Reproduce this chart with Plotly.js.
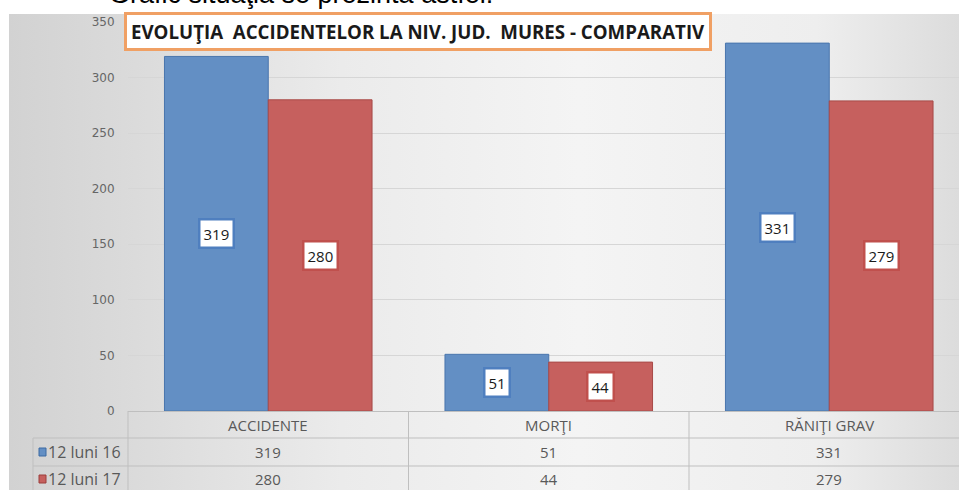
<!DOCTYPE html>
<html>
<head>
<meta charset="utf-8">
<script src="https://cdn.plot.ly/plotly-3.0.1.min.js"></script>
<style>
  html, body { margin: 0; padding: 0; background: #ffffff; }
  #wrap { position: relative; width: 959px; height: 490px; overflow: hidden; background: #ffffff; }
  #bg { position: absolute; left: 9px; top: 14px; width: 950px; height: 476px;
        background: linear-gradient(to right, #d2d2d2 0%, #dadada 12%, #ebebeb 35%, #f4f4f4 60%, #eeeeee 85%, #dcdcdc 100%); }
  #chart { position: absolute; left: 0; top: 0; width: 959px; height: 490px; }
</style>
</head>
<body>
<div id="wrap"><div id="bg"></div><div id="chart"></div></div>
<script>
// ---- data ----
const categories = ["ACCIDENTE", "MORŢI", "RĂNIŢI GRAV"];
const seriesNames = ["12 luni 16", "12 luni 17"];
const values2016 = [319, 51, 331];
const values2017 = [280, 44, 279];
const yTicks = [0, 50, 100, 150, 200, 250, 300, 350];
const chartTitle = "EVOLUŢIA&nbsp;&nbsp;ACCIDENTELOR LA NIV. JUD.&nbsp;&nbsp;MURES - COMPARATIV";
const headingText = "Grafic situaţia se prezintă astfel:";

// ---- styling / geometry ----
const W = 959, H = 490;
const M = { l: 128, r: 0, t: 22, b: 79 };
const plotW = W - M.l - M.r, plotH = H - M.t - M.b;
const catPx = 280.5;
const xr = [-0.5, -0.5 + plotW / catPx];
const yr = [0, 350];
const bargap = 0.26;
const blue = "#638fc4", blueLine = "#4a76ad";
const red = "#c6605e", redLine = "#a84a48";
const gray = "#595959", tableLine = "#bfbfbf";
const tableFont = { family: "Open Sans, sans-serif", size: 15, color: gray };
const legendFont = { family: "Open Sans, sans-serif", size: 16, color: gray };

const px2paperX = p => (p - M.l) / plotW;
const px2paperY = p => (H - M.b - p) / plotH;
const idx2paperX = i => (i - xr[0]) / (xr[1] - xr[0]);

const traces = [
  { type: "bar", name: seriesNames[0], x: categories, y: values2016,
    marker: { color: blue, line: { color: blueLine, width: 1 } }, hoverinfo: "none" },
  { type: "bar", name: seriesNames[1], x: categories, y: values2017,
    marker: { color: red, line: { color: redLine, width: 1 } }, hoverinfo: "none" }
];

const half = (1 - bargap) / 4; // offset of each bar's centre from category centre
const annotations = [];
const shapes = [];

// data labels on bars
[values2016, values2017].forEach((vals, s) => {
  vals.forEach((v, i) => {
    annotations.push({
      xref: "x", yref: "y", x: i + (s === 0 ? -half : half), y: v / 2,
      text: String(v), showarrow: false,
      font: { family: "Open Sans, sans-serif", size: 15, color: "#1a1a1a" },
      bgcolor: "#ffffff", bordercolor: s === 0 ? "#4f7fbf" : "#c0504d",
      borderwidth: 2.5, borderpad: 3
    });
  });
});

// title box
annotations.push({
  xref: "paper", yref: "paper", x: px2paperX(418), y: px2paperY(31),
  xanchor: "center", yanchor: "middle", showarrow: false,
  text: "<b>" + chartTitle + "</b>",
  font: { family: "Open Sans, sans-serif", size: 18.7, color: "#1a1a1a" },
  bgcolor: "#ffffff", bordercolor: "#f0a064", borderwidth: 3, borderpad: 4
});

// heading text cut off at the top
annotations.push({
  xref: "paper", yref: "paper", x: px2paperX(107), y: px2paperY(11),
  xanchor: "left", yanchor: "bottom", showarrow: false,
  text: headingText,
  font: { family: "Liberation Sans, Arial, sans-serif", size: 27, color: "#000000" }
});

// data table
const rowHeader = 424.5, row1 = 452, row2 = 479;
categories.forEach((c, i) => {
  annotations.push({ xref: "x", yref: "paper", x: i, y: px2paperY(rowHeader), text: c,
    showarrow: false, font: tableFont, yanchor: "middle" });
  annotations.push({ xref: "x", yref: "paper", x: i, y: px2paperY(row1), text: String(values2016[i]),
    showarrow: false, font: tableFont, yanchor: "middle" });
  annotations.push({ xref: "x", yref: "paper", x: i, y: px2paperY(row2), text: String(values2017[i]),
    showarrow: false, font: tableFont, yanchor: "middle" });
});
[[row1, 0], [row2, 1]].forEach(([r, s]) => {
  annotations.push({ xref: "paper", yref: "paper", x: px2paperX(46), y: px2paperY(r),
    xanchor: "left", yanchor: "middle", text: seriesNames[s], showarrow: false, font: legendFont });
  shapes.push({ type: "rect", xref: "paper", yref: "paper",
    x0: px2paperX(39), x1: px2paperX(46), y0: px2paperY(r - 4), y1: px2paperY(r + 4),
    fillcolor: s === 0 ? blue : red, line: { color: s === 0 ? "#3d6aa3" : "#9c3f3d", width: 1 } });
});
const lineStyle = { color: tableLine, width: 1 };
// horizontal table lines
[438, 466].forEach(p => shapes.push({ type: "line", xref: "paper", yref: "paper",
  x0: px2paperX(33), x1: 1, y0: px2paperY(p), y1: px2paperY(p), line: lineStyle }));
// vertical table lines
shapes.push({ type: "line", xref: "paper", yref: "paper", x0: px2paperX(33), x1: px2paperX(33),
  y0: px2paperY(438), y1: px2paperY(H + 2), line: lineStyle });
[-0.5, 0.5, 1.5].forEach(b => shapes.push({ type: "line", xref: "paper", yref: "paper",
  x0: idx2paperX(b), x1: idx2paperX(b), y0: 0, y1: px2paperY(H + 2), line: lineStyle }));

const layout = {
  width: W, height: H, margin: M,
  paper_bgcolor: "rgba(0,0,0,0)", plot_bgcolor: "rgba(0,0,0,0)",
  barmode: "group", bargap: bargap, bargroupgap: 0,
  showlegend: false,
  xaxis: { type: "category", range: xr, showticklabels: false, ticks: "",
    showgrid: false, showline: true, linecolor: tableLine, linewidth: 1, fixedrange: true },
  yaxis: { range: yr, tickvals: yTicks, ticks: "outside", ticklen: 10,
    tickcolor: "rgba(0,0,0,0)", showline: false, zeroline: false,
    gridcolor: "#d6d6d6", gridwidth: 1,
    tickfont: { family: "DejaVu Sans, sans-serif", size: 12, color: "#666666" }, fixedrange: true },
  annotations: annotations, shapes: shapes
};

Plotly.newPlot("chart", traces, layout, { displayModeBar: false, staticPlot: true });
</script>
</body>
</html>
